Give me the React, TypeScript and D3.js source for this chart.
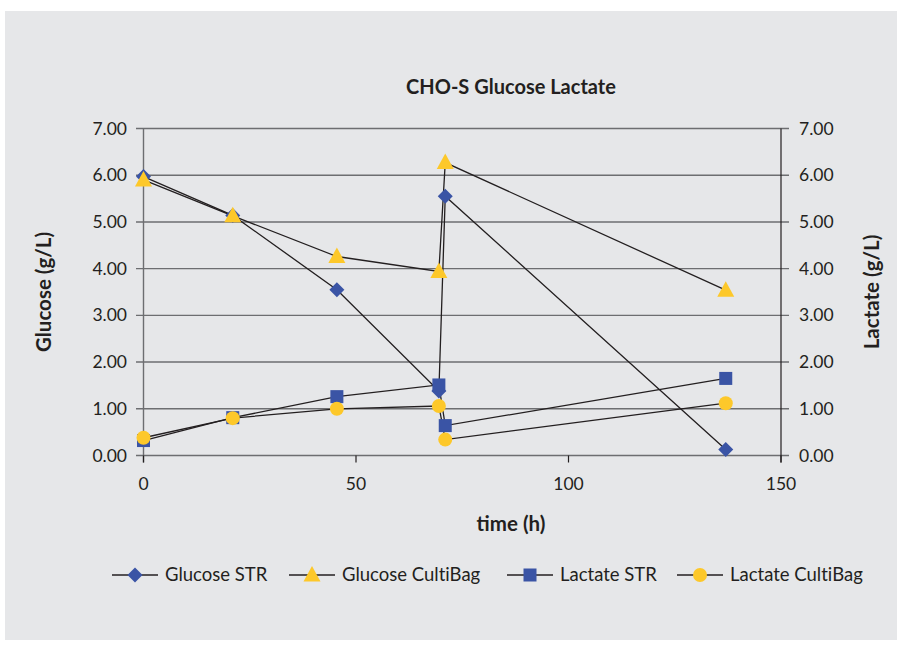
import React from "react";
import * as d3 from "d3";

const timeGlucoseSTR = [0, 21, 45.5, 69.5, 71, 137];
const glucoseSTR = [5.97, 5.14, 3.55, 1.38, 5.55, 0.13];
const timeGlucoseBag = [0, 21, 45.5, 69.5, 71, 137];
const glucoseBag = [5.9, 5.13, 4.26, 3.94, 6.27, 3.54];
const timeLactateSTR = [0, 21, 45.5, 69.5, 71, 137];
const lactateSTR = [0.32, 0.81, 1.26, 1.51, 0.64, 1.65];
const timeLactateBag = [0, 21, 45.5, 69.5, 71, 137];
const lactateBag = [0.38, 0.8, 1.0, 1.06, 0.34, 1.12];

const yTicks = [0, 1, 2, 3, 4, 5, 6, 7];
const xTicks = [0, 50, 100, 150];

const BLUE = "#3a54a5";
const YELLOW = "#fdc82a";
const FONT = "Lato, 'Open Sans', sans-serif";
const TXT: React.CSSProperties = { fontVariantLigatures: "none" };

type Shape = "diamond" | "triangle" | "square" | "circle";

function Marker({ shape, x, y, color }: { shape: Shape; x: number; y: number; color: string }) {
  if (shape === "diamond") {
    const r = 7.5;
    return <path d={`M${x},${y - r}L${x + r},${y}L${x},${y + r}L${x - r},${y}Z`} fill={color} />;
  }
  if (shape === "triangle") {
    return <path d={`M${x},${y - 9}L${x + 8.5},${y + 6.5}L${x - 8.5},${y + 6.5}Z`} fill={color} />;
  }
  if (shape === "square") {
    return <rect x={x - 6.5} y={y - 6.5} width={13} height={13} fill={color} />;
  }
  return <circle cx={x} cy={y} r={7} fill={color} />;
}

const series: { name: string; xs: number[]; ys: number[]; shape: Shape; color: string }[] = [
  { name: "Glucose STR", xs: timeGlucoseSTR, ys: glucoseSTR, shape: "diamond", color: BLUE },
  { name: "Glucose CultiBag", xs: timeGlucoseBag, ys: glucoseBag, shape: "triangle", color: YELLOW },
  { name: "Lactate STR", xs: timeLactateSTR, ys: lactateSTR, shape: "square", color: BLUE },
  { name: "Lactate CultiBag", xs: timeLactateBag, ys: lactateBag, shape: "circle", color: YELLOW },
];

const legendX = [112, 289, 507, 677];

export default function App() {
  const W = 902, H = 647;
  const x = d3.scaleLinear().domain([0, 150]).range([143.5, 781]);
  const y = d3.scaleLinear().domain([0, 7]).range([455.5, 128.5]);
  const line = d3.line<[number, number]>().x((d) => x(d[0])).y((d) => y(d[1]));

  return (
    <svg width={W} height={H} style={{ position: "absolute", left: 0, top: 0 }}>
      <rect x={0} y={0} width={W} height={H} fill="#ffffff" />
      <rect x={5} y={11} width={892} height={629} fill="#e6e7e9" />
      <text x={511} y={94} textAnchor="middle" fontFamily={FONT} fontWeight="bold" fontSize={20} fill="#231f20" style={TXT}>
        CHO-S Glucose Lactate
      </text>
      {yTicks.map((t) => (
        <g key={t}>
          <line x1={136} x2={789} y1={y(t)} y2={y(t)} stroke="#6d6e71" strokeWidth={1.4} />
          <text x={127} y={y(t) + 6} textAnchor="end" fontFamily={FONT} fontSize={17.5} fill="#231f20">
            {t.toFixed(2)}
          </text>
          <text x={799} y={y(t) + 6} textAnchor="start" fontFamily={FONT} fontSize={17.5} fill="#231f20">
            {t.toFixed(2)}
          </text>
        </g>
      ))}
      <line x1={x(0)} x2={x(0)} y1={y(7)} y2={y(0) + 7} stroke="#6d6e71" strokeWidth={1.4} />
      <line x1={x(150)} x2={x(150)} y1={y(7)} y2={y(0) + 7} stroke="#231f20" strokeWidth={1.2} />
      {xTicks.map((t) => (
        <g key={t}>
          <line x1={x(t)} x2={x(t)} y1={y(0)} y2={y(0) + 7} stroke="#231f20" strokeWidth={1.2} />
          <text x={x(t)} y={490} textAnchor="middle" fontFamily={FONT} fontSize={17.5} fill="#231f20">
            {t}
          </text>
        </g>
      ))}
      {series.map((s) => (
        <path
          key={s.name}
          d={line(s.xs.map((v, i) => [v, s.ys[i]] as [number, number])) || ""}
          fill="none"
          stroke="#231f20"
          strokeWidth={1.3}
        />
      ))}
      {series.map((s) => (
        <g key={s.name + "m"}>
          {s.xs.map((v, i) => (
            <Marker key={i} shape={s.shape} x={x(v)} y={y(s.ys[i])} color={s.color} />
          ))}
        </g>
      ))}
      <text
        transform={`translate(51,${292}) rotate(-90)`}
        textAnchor="middle"
        fontFamily={FONT}
        fontWeight="bold"
        fontSize={20.5}
        fill="#231f20"
      >
        Glucose (g/L)
      </text>
      <text
        transform={`translate(879,${292}) rotate(-90)`}
        textAnchor="middle"
        fontFamily={FONT}
        fontWeight="bold"
        fontSize={20.5}
        fill="#231f20"
      >
        Lactate (g/L)
      </text>
      <text x={511} y={531} textAnchor="middle" fontFamily={FONT} fontWeight="bold" fontSize={20.5} fill="#231f20">
        time (h)
      </text>
      {series.map((s, i) => (
        <g key={s.name + "l"}>
          <line x1={legendX[i]} x2={legendX[i] + 46} y1={575} y2={575} stroke="#231f20" strokeWidth={1.3} />
          <Marker shape={s.shape} x={legendX[i] + 23} y={575} color={s.color} />
          <text x={legendX[i] + 53} y={581} fontFamily={FONT} fontSize={18.5} fill="#231f20" style={TXT}>
            {s.name}
          </text>
        </g>
      ))}
    </svg>
  );
}
